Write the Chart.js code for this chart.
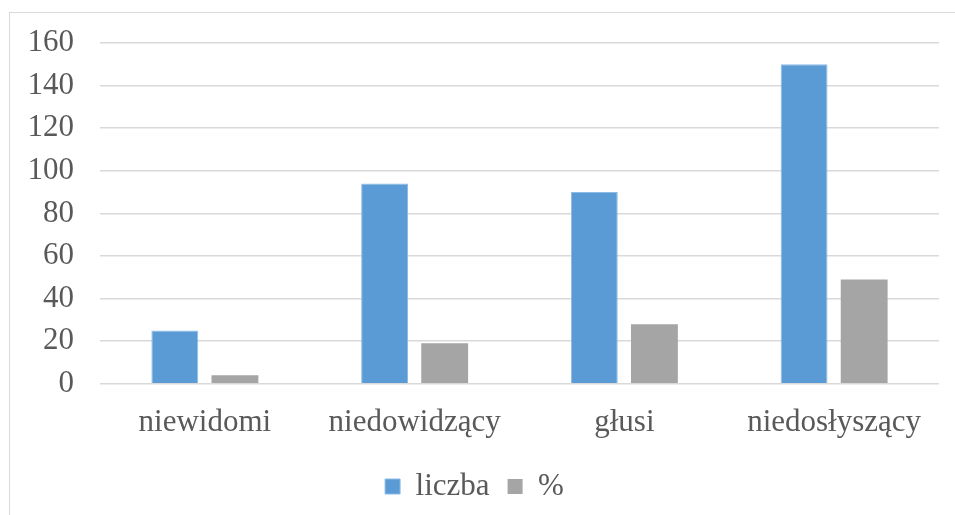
<!DOCTYPE html>
<html lang="pl">
<head>
    <meta charset="UTF-8">
    <title>Wykres</title>
    <script src="https://cdn.jsdelivr.net/npm/chart.js"></script>
    <style>
        body { margin: 0; background: #fff; }
        .frame {
            position: absolute; left: 9px; top: 12px;
            width: 960px; height: 520px;
            border-left: 1px solid #d9d9d9; border-top: 1px solid #d9d9d9;
        }
        .chart-box { position: absolute; left: 10px; top: 13px; width: 940px; height: 502px; }
    </style>
</head>
<body>
    <div class="frame"></div>
    <div class="chart-box"><canvas id="chart"></canvas></div>

    <script>
        // dane
        const categories = ["niewidomi", "niedowidzący", "głusi", "niedosłyszący"];
        const liczba = [25, 94, 90, 150];
        const procent = [4, 19, 28, 49];
        const yTicks = [0, 20, 40, 60, 80, 100, 120, 140, 160];

        const font = { family: "'Liberation Serif', 'Times New Roman', serif", size: 31 };

        new Chart(document.getElementById("chart"), {
            type: "bar",
            data: {
                labels: categories,
                datasets: [
                    { label: "liczba", data: liczba, backgroundColor: "#5B9BD5", borderColor: "#8cbbe6", borderWidth: 1 },
                    { label: "%", data: procent, backgroundColor: "#A5A5A5" }
                ]
            },
            options: {
                responsive: true,
                maintainAspectRatio: false,
                animation: false,
                categoryPercentage: 0.573,
                barPercentage: 0.78,
                layout: { padding: { left: 0, right: 11, top: 0, bottom: 3 } },
                plugins: {
                    tooltip: { enabled: false },
                    legend: {
                        position: "bottom",
                        labels: { font: font, color: "#595959", boxWidth: 15, boxHeight: 15, padding: 18 }
                    }
                },
                scales: {
                    x: {
                        grid: { display: false },
                        border: { display: false },
                        ticks: { font: font, color: "#595959", padding: 12 }
                    },
                    y: {
                        min: 0, max: 160,
                        afterBuildTicks: axis => { axis.ticks = yTicks.map(v => ({ value: v })); },
                        afterFit: axis => { axis.width = 90; axis.paddingTop = 30; },
                        grid: { color: "#d9d9d9", lineWidth: 1.5, drawTicks: false },
                        border: { display: false },
                        ticks: { font: font, color: "#595959", padding: 26 }
                    }
                }
            }
        });
    </script>
</body>
</html>
